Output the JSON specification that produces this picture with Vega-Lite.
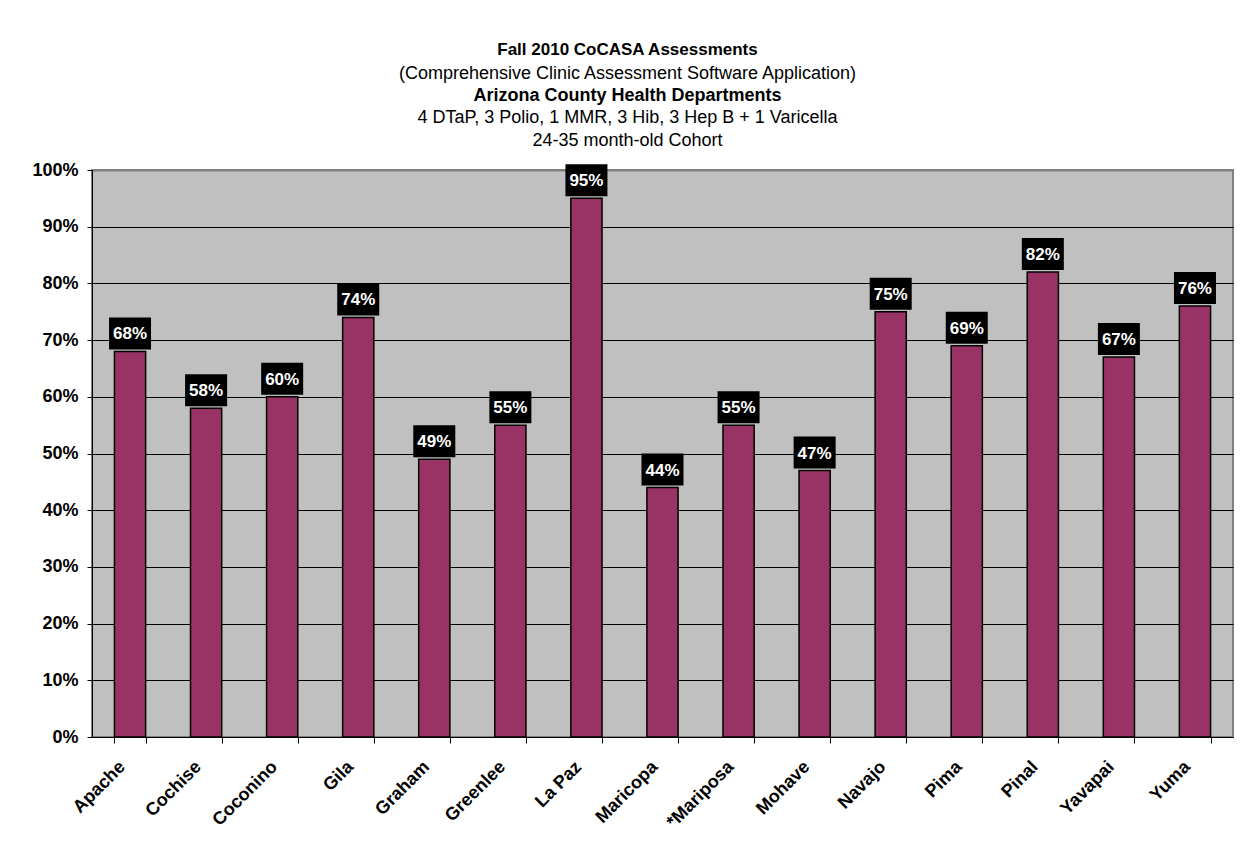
{
  "$schema": "https://vega.github.io/schema/vega-lite/v6.json",
  "width": 1141,
  "height": 567,
  "autosize": {"type": "none"},
  "padding": {"left": 92, "top": 170, "right": 17, "bottom": 115},
  "background": "white",
  "config": {
    "font": "Liberation Sans",
    "view": {"fill": "#C0C0C0", "stroke": "#808080", "strokeWidth": 2},
    "axis": {"labelColor": "black", "titleColor": "black"}
  },
  "title": {
    "text": "Fall 2010 CoCASA Assessments",
    "subtitle": "(Comprehensive Clinic Assessment Software Application)",
    "fontSize": 17,
    "fontWeight": "bold",
    "subtitleFontSize": 18,
    "subtitleFontWeight": "normal",
    "subtitleColor": "black",
    "color": "black",
    "anchor": "middle",
    "frame": "group",
    "dx": -35,
    "dy": 0,
    "offset": 2,
    "subtitlePadding": 6
  },
  "data": {
    "values": [
      {"county": "Apache", "pct": 0.68},
      {"county": "Cochise", "pct": 0.58},
      {"county": "Coconino", "pct": 0.60},
      {"county": "Gila", "pct": 0.74},
      {"county": "Graham", "pct": 0.49},
      {"county": "Greenlee", "pct": 0.55},
      {"county": "La Paz", "pct": 0.95},
      {"county": "Maricopa", "pct": 0.44},
      {"county": "*Mariposa", "pct": 0.55},
      {"county": "Mohave", "pct": 0.47},
      {"county": "Navajo", "pct": 0.75},
      {"county": "Pima", "pct": 0.69},
      {"county": "Pinal", "pct": 0.82},
      {"county": "Yavapai", "pct": 0.67},
      {"county": "Yuma", "pct": 0.76}
    ]
  },
  "resolve": {"axis": {"x": "independent"}},
  "layer": [
    {
      "mark": {"type": "bar", "fill": "#993366", "stroke": "black", "strokeWidth": 1.5},
      "encoding": {
        "x": {
          "field": "county", "type": "nominal", "sort": null,
          "scale": {"paddingInner": 0.59, "paddingOuter": 0.295},
          "axis": {
            "title": null,
            "orient": "bottom",
            "tickBand": "extent",
            "tickSize": 6,
            "tickColor": "black",
            "domainColor": "black",
            "domainWidth": 1,
            "labelAngle": -45,
            "labelAlign": "right",
            "labelBaseline": "middle",
            "labelFontSize": 18,
            "labelFontWeight": "bold",
            "labelPadding": 21,
            "labelOffset": -8,
            "grid": false
          }
        },
        "y": {
          "field": "pct", "type": "quantitative",
          "scale": {"domain": [0, 1], "nice": false},
          "axis": {
            "title": null,
            "values": [0, 0.1, 0.2, 0.3, 0.4, 0.5, 0.6, 0.7, 0.8, 0.9, 1],
            "format": ".0%",
            "labelFontSize": 18,
            "labelFontWeight": "bold",
            "labelPadding": 9,
            "tickSize": 5,
            "tickColor": "black",
            "domainColor": "black",
            "grid": true,
            "gridColor": {"condition": {"test": "datum.value >= 1", "value": "#808080"}, "value": "black"},
            "gridWidth": {"condition": {"test": "datum.value >= 1", "value": 2}, "value": 1},
            "gridOpacity": 1
          }
        }
      }
    },
    {
      "mark": {"type": "point", "shape": "M-1,-0.762H1V0.762H-1Z", "size": 1764, "filled": true, "fill": "black", "opacity": 1, "strokeWidth": 0, "yOffset": -18},
      "encoding": {
        "x": {
          "field": "county", "type": "nominal", "sort": null,
          "axis": {
            "orient": "top",
            "labels": false, "ticks": false, "domain": false, "grid": false,
            "title": "Arizona County Health Departments",
            "titleFontSize": 18,
            "titleFontWeight": "bold",
            "titleX": 535,
            "titleY": -66,
            "titleAlign": "center",
            "titleBaseline": "bottom"
          }
        },
        "y": {"field": "pct", "type": "quantitative"}
      }
    },
    {
      "mark": {"type": "text", "color": "white", "fontSize": 17, "fontWeight": "bold", "baseline": "middle", "align": "center", "yOffset": -17},
      "encoding": {
        "x": {
          "field": "county", "type": "nominal", "sort": null,
          "axis": {
            "orient": "top",
            "labels": false, "ticks": false, "domain": false, "grid": false,
            "title": ["4 DTaP, 3 Polio, 1 MMR, 3 Hib, 3 Hep B + 1 Varicella", "24-35 month-old Cohort"],
            "titleFontSize": 18,
            "titleFontWeight": "normal",
            "titleLineHeight": 22.5,
            "titleX": 535,
            "titleY": -43.5,
            "titleAlign": "center",
            "titleBaseline": "bottom"
          }
        },
        "y": {"field": "pct", "type": "quantitative"},
        "text": {"field": "pct", "type": "quantitative", "format": ".0%"}
      }
    }
  ]
}
